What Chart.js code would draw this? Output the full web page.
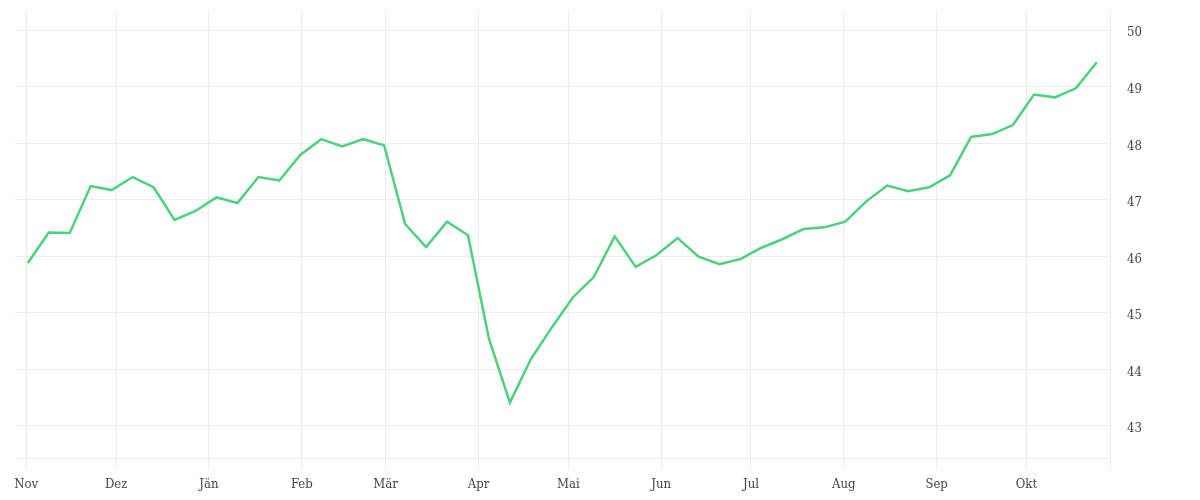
<!DOCTYPE html>
<html>
<head>
<meta charset="utf-8">
<script src="https://cdn.jsdelivr.net/npm/chart.js@4/dist/chart.umd.min.js"></script>
<style>
  body { margin: 0; background: #fff; }
</style>
</head>
<body>
<canvas id="price-chart" width="1200" height="500"></canvas>
<script>
// weekly closes
var dates = [
  "2022-11-01", "2022-11-08", "2022-11-15", "2022-11-22", "2022-11-29",
  "2022-12-06", "2022-12-13", "2022-12-20", "2022-12-27",
  "2023-01-03", "2023-01-10", "2023-01-17", "2023-01-24", "2023-01-31",
  "2023-02-07", "2023-02-14", "2023-02-21", "2023-02-28",
  "2023-03-07", "2023-03-14", "2023-03-21", "2023-03-28",
  "2023-04-04", "2023-04-11", "2023-04-18", "2023-04-25",
  "2023-05-02", "2023-05-09", "2023-05-16", "2023-05-23", "2023-05-30",
  "2023-06-06", "2023-06-13", "2023-06-20", "2023-06-27",
  "2023-07-04", "2023-07-11", "2023-07-18", "2023-07-25",
  "2023-08-01", "2023-08-08", "2023-08-15", "2023-08-22", "2023-08-29",
  "2023-09-05", "2023-09-12", "2023-09-19", "2023-09-26",
  "2023-10-03", "2023-10-10", "2023-10-17", "2023-10-24"
];
var prices = [
  45.88, 46.42, 46.41, 47.24, 47.17, 47.40, 47.22, 46.64, 46.80,
  47.04, 46.94, 47.40, 47.34, 47.79, 48.07, 47.94, 48.07, 47.96,
  46.57, 46.16, 46.61, 46.37, 44.54, 43.41, 44.18, 44.74,
  45.27, 45.63, 46.35, 45.81, 46.02, 46.32, 45.99, 45.86, 45.95,
  46.15, 46.30, 46.48, 46.51, 46.61, 46.97, 47.25, 47.15, 47.22,
  47.43, 48.11, 48.16, 48.32, 48.86, 48.81, 48.97, 49.43
];
var monthStarts = [
  "2022-11-01", "2022-12-01", "2023-01-01", "2023-02-01", "2023-03-01", "2023-04-01",
  "2023-05-01", "2023-06-01", "2023-07-01", "2023-08-01", "2023-09-01", "2023-10-01"
];
var monthLabels = ["Nov", "Dez", "Jän", "Feb", "Mär", "Apr", "Mai", "Jun", "Jul", "Aug", "Sep", "Okt"];
var yTicks = [43, 44, 45, 46, 47, 48, 49, 50];
var axisStart = "2022-10-28T05:30:00Z";
var axisEnd = "2023-10-28T21:30:00Z";
var yMin = 42.43;
var yMax = 50.32;

var origin = Date.parse("2022-11-01T00:00:00Z");
function toDays(s) {
  if (s.length === 10) s = s + "T00:00:00Z";
  return (Date.parse(s) - origin) / 86400000;
}

// points sit at midday of each date
var points = [];
for (var i = 0; i < dates.length; i++) {
  points.push({ x: toDays(dates[i] + "T12:00:00Z"), y: prices[i] });
}
var monthDays = monthStarts.map(toDays);
var xMin = toDays(axisStart);
var xMax = toDays(axisEnd);

var gridColor = "#ececec";
var labelFont = { family: "'DejaVu Serif Condensed', 'Liberation Serif', serif", size: 13 };

var ctx = document.getElementById("price-chart");
var myChart = new Chart(ctx, {
  type: "line",
  data: {
    datasets: [
      {
        data: points,
        borderColor: "#4cd27c",
        backgroundColor: "#4cd27c",
        borderWidth: 2.5,
        pointRadius: 0,
        fill: false,
        tension: 0,
      },
    ],
  },
  options: {
    responsive: false,
    animation: false,
    layout: { padding: { left: 15, top: 12, right: 0, bottom: 0 } },
    plugins: {
      legend: { display: false },
      tooltip: { enabled: false },
    },
    scales: {
      x: {
        type: "linear",
        min: xMin,
        max: xMax,
        afterBuildTicks: function (axis) {
          var t = monthDays.map(function (d) { return { value: d }; });
          t.push({ value: xMax });
          axis.ticks = t;
        },
        afterFit: function (axis) {
          axis.height = 42;
          axis.paddingLeft = 0;
          axis.paddingRight = 0;
        },
        grid: { color: gridColor, tickLength: 10 },
        border: { color: gridColor },
        ticks: {
          autoSkip: false,
          maxRotation: 0,
          padding: 9,
          color: "#444",
          font: labelFont,
          callback: function (value, index) {
            return monthLabels[index] || "";
          },
        },
      },
      y: {
        position: "right",
        min: yMin,
        max: yMax,
        afterBuildTicks: function (axis) {
          axis.ticks = yTicks.map(function (v) { return { value: v }; });
        },
        afterFit: function (axis) {
          axis.width = 90;
          axis.paddingTop = 0;
          axis.paddingBottom = 0;
        },
        grid: { color: gridColor, drawTicks: false },
        border: { color: gridColor },
        ticks: {
          padding: 17,
          labelOffset: 3,
          color: "#444",
          font: labelFont,
        },
      },
    },
  },
});
</script>
</body>
</html>
